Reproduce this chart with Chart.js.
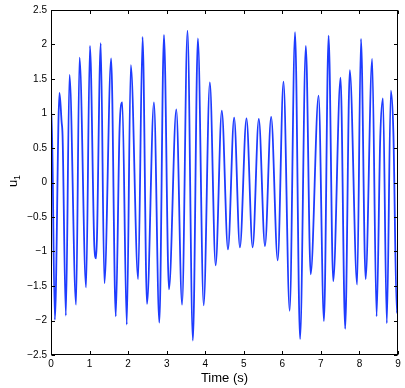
<!DOCTYPE html>
<html>
<head>
<meta charset="utf-8">
<script src="https://cdn.jsdelivr.net/npm/chart.js@4.4.1/dist/chart.umd.min.js"></script>
<style>
  html, body { margin: 0; padding: 0; background: #fff; }
  #wrap { width: 405px; height: 388px; }
</style>
</head>
<body>
<div id="wrap"><canvas id="u1Chart" width="405" height="388"></canvas></div>
<script>
// peaks, troughs and shoulders
const timeS = [
  0.00, 0.015, 0.10, 0.22, 0.275, 0.30, 0.385, 0.48, 0.65, 0.74,
  0.91, 1.01, 1.125, 1.17, 1.29, 1.385, 1.56, 1.68, 1.78, 1.85,
  1.965, 2.07, 2.26, 2.375, 2.49, 2.67, 2.81, 2.93, 3.06, 3.25,
  3.40, 3.54, 3.68, 3.81, 3.96, 4.12, 4.27, 4.43, 4.59, 4.75,
  4.90, 5.07, 5.23, 5.39, 5.55, 5.71, 5.88, 6.03, 6.19, 6.33,
  6.46, 6.61, 6.735, 6.94, 7.08, 7.20, 7.32, 7.51, 7.63, 7.75,
  7.94, 8.04, 8.16, 8.33, 8.445, 8.54, 8.61, 8.71, 8.815, 8.88,
  8.97, 9.00
];
const u1 = [
  1.03, 1.05, -1.99, 1.30, 0.88, 0.68, -1.93, 1.56, -1.77, 1.81,
  -1.52, 1.98, -0.93, -1.10, 2.02, -1.46, 1.80, -1.94, 0.80, 1.16,
  -2.06, 1.70, -1.40, 2.11, -1.76, 1.16, -2.03, 2.14, -1.55, 1.06,
  -1.77, 2.20, -2.29, 2.09, -1.78, 1.45, -1.20, 1.04, -0.97, 0.94,
  -0.94, 0.93, -0.94, 0.92, -0.92, 0.95, -1.13, 1.46, -1.86, 2.18,
  -2.27, 1.98, -1.33, 1.26, -2.01, 2.13, -1.43, 1.52, -2.12, 1.63,
  -1.48, 2.08, -1.40, 1.79, -1.94, 0.66, 1.22, -2.04, 1.33, 0.73,
  -1.89, -1.62
];
const xTicks = [0, 1, 2, 3, 4, 5, 6, 7, 8, 9];
const yTicks = [-2.5, -2, -1.5, -1, -0.5, 0, 0.5, 1, 1.5, 2, 2.5];

const tickFont = { family: 'Liberation Sans, Arial, sans-serif', size: 10 };

function fmt(v) {
  return v < 0 ? '\u2212' + String(-v) : String(v);
}

// MATLAB style box, inward ticks and axis labels
const matlabAxes = {
  id: 'matlabAxes',
  afterDraw(chart) {
    const { ctx, chartArea: a, scales: { x, y } } = chart;
    const L = Math.round(a.left) + 0.5, R = Math.round(a.right) - 0.5;
    const T = Math.round(a.top) + 0.5, B = Math.round(a.bottom) - 0.5;
    ctx.save();
    ctx.strokeStyle = '#000';
    ctx.lineWidth = 1;
    ctx.strokeRect(L, T, R - L, B - T);
    ctx.beginPath();
    xTicks.forEach(v => {
      const px = Math.round(x.getPixelForValue(v)) + 0.5;
      ctx.moveTo(px, B); ctx.lineTo(px, B - 3.5);
      ctx.moveTo(px, T); ctx.lineTo(px, T + 3.5);
    });
    yTicks.forEach(v => {
      const py = Math.round(y.getPixelForValue(v)) + 0.5;
      ctx.moveTo(L, py); ctx.lineTo(L + 3.5, py);
      ctx.moveTo(R, py); ctx.lineTo(R - 3.5, py);
    });
    ctx.stroke();

    ctx.fillStyle = '#000';
    ctx.font = '13px Liberation Sans, Arial, sans-serif';
    ctx.textAlign = 'center';
    ctx.textBaseline = 'middle';
    ctx.fillText('Time (s)', (a.left + a.right) / 2, 378);

    // y label: u with subscript 1
    ctx.translate(17, 181);
    ctx.rotate(-Math.PI / 2);
    ctx.textAlign = 'left';
    ctx.textBaseline = 'alphabetic';
    const uw = ctx.measureText('u').width;
    ctx.font = '9px Liberation Sans, Arial, sans-serif';
    const sw = ctx.measureText('1').width;
    const x0 = -(uw + sw) / 2;
    ctx.fillText('1', x0 + uw, 3);
    ctx.font = '13px Liberation Sans, Arial, sans-serif';
    ctx.fillText('u', x0, 0);
    ctx.restore();
  }
};

new Chart(document.getElementById('u1Chart'), {
  type: 'line',
  data: {
    datasets: [{
      data: timeS.map((t, i) => ({ x: t, y: u1[i] })),
      borderColor: 'rgb(30, 60, 255)',
      borderWidth: 1.8,
      pointRadius: 0,
      fill: false,
      cubicInterpolationMode: 'monotone'
    }]
  },
  options: {
    responsive: false,
    animation: false,
    layout: { padding: { left: 0, top: 9, right: 7, bottom: 0 } },
    plugins: { legend: { display: false }, tooltip: { enabled: false } },
    scales: {
      x: {
        type: 'linear',
        min: 0, max: 9,
        grid: { display: false, drawTicks: false },
        border: { display: false },
        afterBuildTicks: s => { s.ticks = xTicks.map(v => ({ value: v })); },
        afterFit: s => { s.height = 33; },
        ticks: { font: tickFont, color: '#000', padding: 3, maxRotation: 0, callback: v => fmt(v) }
      },
      y: {
        type: 'linear',
        min: -2.5, max: 2.5,
        grid: { display: false, drawTicks: false },
        border: { display: false },
        afterBuildTicks: s => { s.ticks = yTicks.map(v => ({ value: v })); },
        afterFit: s => { s.width = 51; },
        ticks: { font: tickFont, color: '#000', padding: 4, callback: v => fmt(v) }
      }
    }
  },
  plugins: [matlabAxes]
});
</script>
</body>
</html>
